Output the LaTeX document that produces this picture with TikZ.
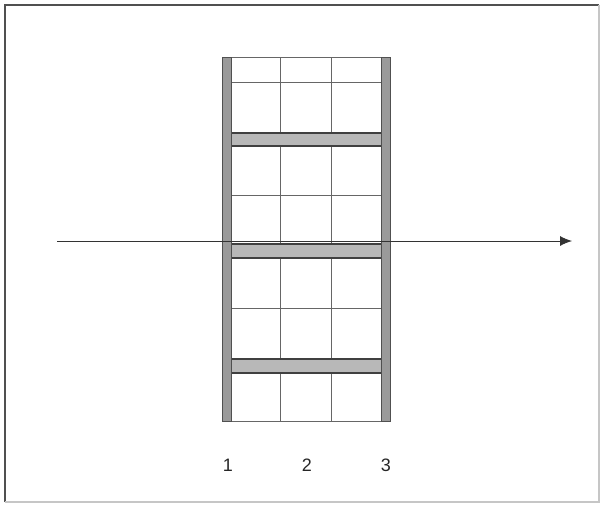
\documentclass[tikz,border=0pt]{standalone}
\usepackage{fontspec}
\setmainfont{Liberation Sans}
\usetikzlibrary{arrows.meta}
\definecolor{wallgray}{HTML}{9A9A9A}
\definecolor{edgegray}{HTML}{505050}

\begin{document}
\begin{tikzpicture}[x=1pt, y=-1pt,
  frame/.style={line width=1.6pt, color=edgegray},
  grid/.style={line width=0.8pt, color=gray!80!black},
  wall/.style={draw=edgegray, fill=wallgray, line width=1pt},
  shelf/.style={draw=edgegray!80!black, fill=wallgray!70, line width=1.4pt},
  axis/.style={-{Latex[length=12pt, width=10pt]}, line width=0.9pt, color=black!80},
  num/.style={font=\fontsize{18}{20}\selectfont, color=black!85}
]
\useasboundingbox (0,0) rectangle (603,504);
% frame
\draw[frame] (5,502) -- (5,5) -- (599,5);
\draw[frame, color=gray!45] (599,5) -- (599,502) -- (5,502);

% grid of cells
\foreach \y in {57,82,195,308,421}
  \draw[grid] (227,\y) -- (385,\y);
\foreach \x in {280,331}
  \draw[grid] (\x,57) -- (\x,421);

% shelves
\foreach \ya/\yb in {133/146, 244/258, 359/373}
  \draw[shelf] (230,\ya) rectangle (382,\yb);

% walls
\draw[wall] (222,57) rectangle (231,421);
\draw[wall] (381,57) rectangle (390,421);

% axis
\coordinate (start) at (57,241);
\coordinate (tip) at (572,241);
\draw[axis] (start) -- (tip);

% labels
\node[num] (n1) at (228,465) {1};
\node[num] (n2) at (307,465) {2};
\node[num] (n3) at (386,465) {3};
\end{tikzpicture}
\end{document}
